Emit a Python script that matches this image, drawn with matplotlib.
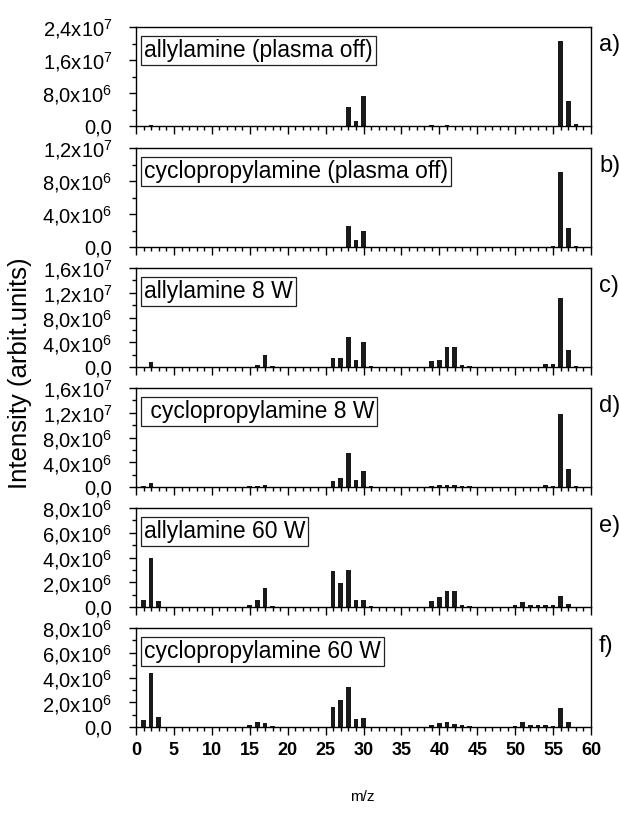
import numpy as np
import matplotlib
matplotlib.use("Agg")
import matplotlib.pyplot as plt
from matplotlib.ticker import MultipleLocator, FixedLocator, FixedFormatter

plt.rcParams['font.family'] = ['Liberation Sans', 'DejaVu Sans']
plt.rcParams['mathtext.fontset'] = 'custom'
plt.rcParams['mathtext.rm'] = 'Liberation Sans'
plt.rcParams['mathtext.it'] = 'Liberation Sans'

# --- data (m/z, intensity) ---
mz_a = [2, 28, 29, 30, 39, 41, 54, 56, 57, 58]
int_a = [0.3e6, 4.6e6, 1.3e6, 7.3e6, 0.3e6, 0.3e6, 0.1e6, 2.07e7, 6.1e6, 0.4e6]

mz_b = [2, 17, 28, 29, 30, 39, 41, 55, 56, 57, 58]
int_b = [0.05e6, 0.05e6, 2.5e6, 0.8e6, 1.9e6, 0.05e6, 0.05e6, 0.1e6, 9.1e6, 2.3e6, 0.1e6]

mz_c = [2, 16, 17, 18, 26, 27, 28, 29, 30, 31, 39, 40, 41, 42, 43, 44, 54, 55, 56, 57, 58]
int_c = [0.8e6, 0.3e6, 1.9e6, 0.1e6, 1.5e6, 1.4e6, 4.9e6, 1.1e6, 4.1e6, 0.1e6,
         0.9e6, 1.2e6, 3.2e6, 3.3e6, 0.3e6, 0.1e6, 0.5e6, 0.5e6, 1.11e7, 2.8e6, 0.2e6]

mz_d = [1, 2, 15, 16, 17, 26, 27, 28, 29, 30, 31, 39, 40, 41, 42, 43, 44, 54, 55, 56, 57, 58]
int_d = [0.1e6, 0.7e6, 0.1e6, 0.2e6, 0.35e6, 1.0e6, 1.5e6, 5.5e6, 1.2e6, 2.6e6, 0.1e6,
         0.1e6, 0.25e6, 0.35e6, 0.35e6, 0.2e6, 0.1e6, 0.3e6, 0.1e6, 1.18e7, 2.9e6, 0.1e6]

mz_e = [1, 2, 3, 15, 16, 17, 18, 26, 27, 28, 29, 30, 31, 39, 40, 41, 42, 43, 44,
        50, 51, 52, 53, 54, 55, 56, 57]
int_e = [0.6e6, 4.0e6, 0.5e6, 0.2e6, 0.6e6, 1.5e6, 0.1e6, 2.9e6, 1.9e6, 3.0e6, 0.6e6, 0.6e6, 0.05e6,
         0.5e6, 0.8e6, 1.3e6, 1.3e6, 0.2e6, 0.1e6,
         0.2e6, 0.4e6, 0.2e6, 0.2e6, 0.2e6, 0.15e6, 0.9e6, 0.25e6]

mz_f = [1, 2, 3, 15, 16, 17, 18, 26, 27, 28, 29, 30, 39, 40, 41, 42, 43, 44,
        50, 51, 52, 53, 54, 55, 56, 57]
int_f = [0.6e6, 4.4e6, 0.8e6, 0.2e6, 0.4e6, 0.35e6, 0.05e6, 1.6e6, 2.15e6, 3.2e6, 0.65e6, 0.7e6,
         0.13e6, 0.3e6, 0.43e6, 0.25e6, 0.15e6, 0.08e6,
         0.1e6, 0.43e6, 0.15e6, 0.15e6, 0.2e6, 0.1e6, 1.5e6, 0.37e6]

names = ['allylamine (plasma off)', 'cyclopropylamine (plasma off)', 'allylamine 8 W',
         ' cyclopropylamine 8 W', 'allylamine 60 W', 'cyclopropylamine 60 W']
letters = ['a)', 'b)', 'c)', 'd)', 'e)', 'f)']

yticks_a = [0, 8e6, 1.6e7, 2.4e7]
ylabels_a = ['0,0', '8,0x10$^6$', '1,6x10$^7$', '2,4x10$^7$']
yticks_b = [0, 4e6, 8e6, 1.2e7]
ylabels_b = ['0,0', '4,0x10$^6$', '8,0x10$^6$', '1,2x10$^7$']
yticks_cd = [0, 4e6, 8e6, 1.2e7, 1.6e7]
ylabels_cd = ['0,0', '4,0x10$^6$', '8,0x10$^6$', '1,2x10$^7$', '1,6x10$^7$']
yticks_ef = [0, 2e6, 4e6, 6e6, 8e6]
ylabels_ef = ['0,0', '2,0x10$^6$', '4,0x10$^6$', '6,0x10$^6$', '8,0x10$^6$']

panels = [
    (mz_a, int_a, yticks_a, ylabels_a),
    (mz_b, int_b, yticks_b, ylabels_b),
    (mz_c, int_c, yticks_cd, ylabels_cd),
    (mz_d, int_d, yticks_cd, ylabels_cd),
    (mz_e, int_e, yticks_ef, ylabels_ef),
    (mz_f, int_f, yticks_ef, ylabels_ef),
]

W, H = 619, 823
fig = plt.figure(figsize=(W / 100, H / 100), dpi=100)

left_px, right_px = 136, 591
tops_px = [27, 148, 268, 388, 508, 628]
h_px = 99

for k, (x, y, yt, yl) in enumerate(panels):
    top = tops_px[k]
    ax = fig.add_axes([left_px / W, 1 - (top + h_px) / H, (right_px - left_px) / W, h_px / H])
    ax.bar(x, y, width=0.6, color='#1a1a1a', linewidth=0)
    ax.set_xlim(0, 60)
    ax.set_ylim(0, yt[-1])
    ax.yaxis.set_major_locator(FixedLocator(yt))
    ax.yaxis.set_major_formatter(FixedFormatter(yl))
    ax.yaxis.set_minor_locator(MultipleLocator(yt[1] / 2))
    ax.xaxis.set_major_locator(MultipleLocator(5))
    ax.xaxis.set_minor_locator(MultipleLocator(1))
    ax.tick_params(axis='both', which='major', direction='out', length=5, width=1,
                   labelsize=14.5, pad=12)
    ax.tick_params(axis='both', which='minor', direction='out', length=3, width=1)
    ax.tick_params(axis='x', which='major', length=6, pad=5)
    for s in ax.spines.values():
        s.set_linewidth(1)
    if k < 5:
        ax.tick_params(axis='x', labelbottom=False)
    else:
        for lab in ax.get_xticklabels():
            lab.set_fontweight('bold')
            lab.set_fontsize(13)
    ax.text(0.018, 0.88, names[k], transform=ax.transAxes, fontsize=16.5, va='top', ha='left',
            bbox=dict(boxstyle='square,pad=0.12', facecolor='white', edgecolor='#222222', linewidth=0.9))
    fig.text((right_px + 8) / W, 1 - (top + 18) / H, letters[k], fontsize=17, va='center', ha='left')

fig.text(20 / W, 1 - 373 / H, 'Intensity (arbit.units)', rotation=90, fontsize=18.5,
         va='center', ha='center')
fig.text(362 / W, 1 - 797 / H, 'm/z', fontsize=11, va='center', ha='center')

fig.savefig('out.png', dpi=100)
